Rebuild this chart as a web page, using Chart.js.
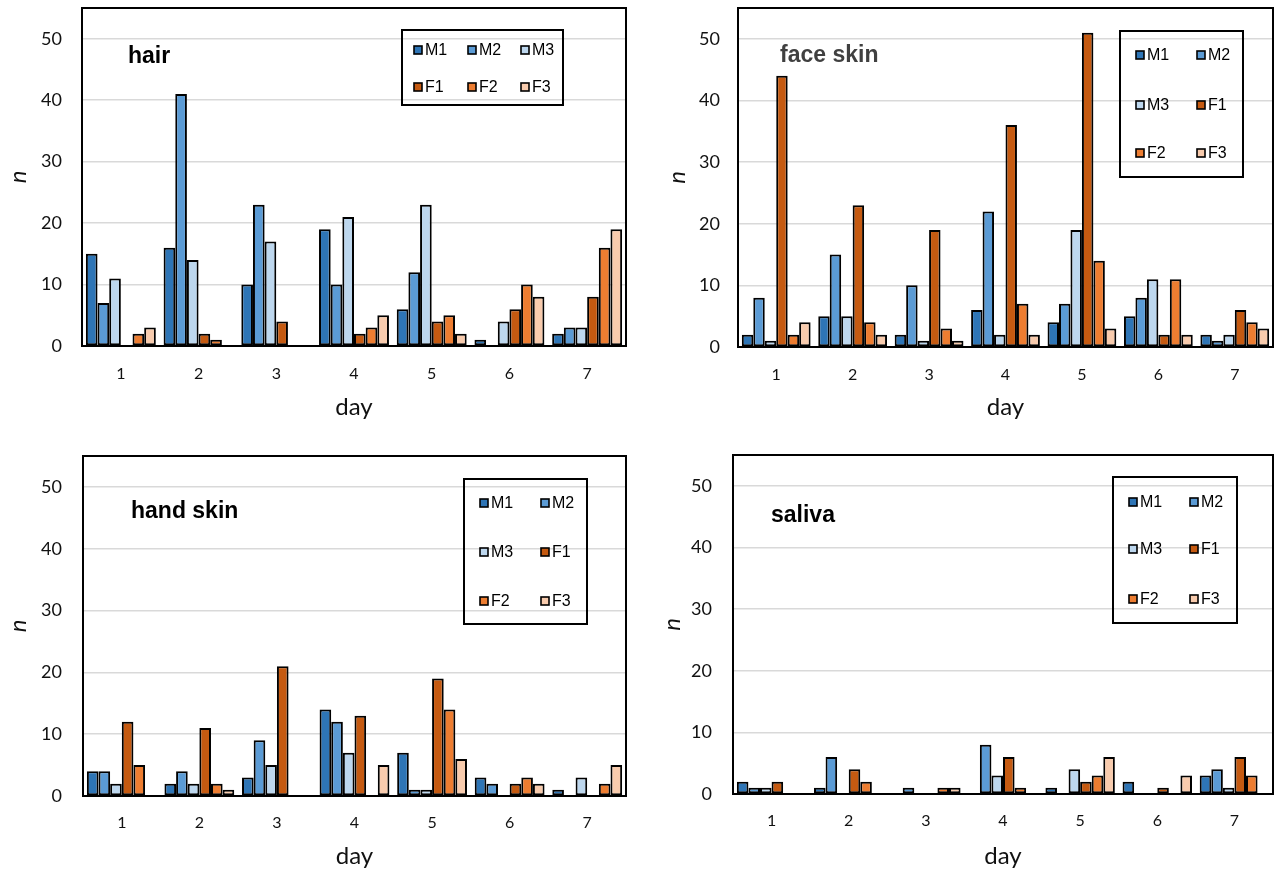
<!DOCTYPE html>
<html>
<head>
<meta charset="utf-8">
<script src="https://cdn.jsdelivr.net/npm/chart.js@4.4.1/dist/chart.umd.min.js"></script>
<style>
  html, body { margin: 0; padding: 0; background: #fff; }
  #wrap { position: relative; width: 1282px; height: 875px; overflow: hidden; }
  canvas { position: absolute; }
</style>
</head>
<body>
<div id="wrap">
  <canvas id="c-hair" width="641" height="437" style="left:0;top:0"></canvas>
  <canvas id="c-face" width="641" height="437" style="left:641px;top:0"></canvas>
  <canvas id="c-hand" width="641" height="438" style="left:0;top:437px"></canvas>
  <canvas id="c-saliva" width="641" height="438" style="left:641px;top:437px"></canvas>
</div>
<script>
// --- DATA ---
const days = ['1', '2', '3', '4', '5', '6', '7'];
const seriesNames = ['M1', 'M2', 'M3', 'F1', 'F2', 'F3'];
const yTicks = [0, 10, 20, 30, 40, 50];

const hairM1 = [15, 16, 10, 19, 6, 1, 2];
const hairM2 = [7, 41, 23, 10, 12, 0, 3];
const hairM3 = [11, 14, 17, 21, 23, 4, 3];
const hairF1 = [0, 2, 4, 2, 4, 6, 8];
const hairF2 = [2, 1, 0, 3, 5, 10, 16];
const hairF3 = [3, 0, 0, 5, 2, 8, 19];

const faceM1 = [2, 5, 2, 6, 4, 5, 2];
const faceM2 = [8, 15, 10, 22, 7, 8, 1];
const faceM3 = [1, 5, 1, 2, 19, 11, 2];
const faceF1 = [44, 23, 19, 36, 51, 2, 6];
const faceF2 = [2, 4, 3, 7, 14, 11, 4];
const faceF3 = [4, 2, 1, 2, 3, 2, 3];

const handM1 = [4, 2, 3, 14, 7, 3, 1];
const handM2 = [4, 4, 9, 12, 1, 2, 0];
const handM3 = [2, 2, 5, 7, 1, 0, 3];
const handF1 = [12, 11, 21, 13, 19, 2, 0];
const handF2 = [5, 2, 0, 0, 14, 3, 2];
const handF3 = [0, 1, 0, 5, 6, 2, 5];

const salivaM1 = [2, 1, 0, 0, 1, 2, 3];
const salivaM2 = [1, 6, 1, 8, 0, 0, 4];
const salivaM3 = [1, 0, 0, 3, 4, 0, 1];
const salivaF1 = [2, 4, 0, 6, 2, 1, 6];
const salivaF2 = [0, 2, 1, 1, 3, 0, 3];
const salivaF3 = [0, 0, 1, 0, 6, 3, 0];

// --- STYLE ---
const fills = ['#2E75B6', '#5B9BD5', '#BDD7EE', '#C55A11', '#ED7D31', '#F8CBAD'];
const numFont = 'Lato, "Noto Sans", sans-serif';
const textFont = '"Liberation Sans", Arial, sans-serif';

// frame, panel name and boxed legend drawn over the plot
const panelDecor = {
  id: 'panelDecor',
  afterDatasetsDraw(chart, args, opts) {
    const { ctx, chartArea: a } = chart;
    ctx.save();
    ctx.strokeStyle = '#000';
    ctx.lineWidth = 2;
    ctx.strokeRect(a.left, a.top, a.right - a.left, a.bottom - a.top);

    ctx.font = 'bold 23px ' + textFont;
    ctx.fillStyle = opts.titleColor;
    ctx.textAlign = 'left';
    ctx.textBaseline = 'alphabetic';
    ctx.fillText(opts.title, opts.titleX, opts.titleY);

    const L = opts.legend;
    ctx.lineWidth = 2;
    ctx.strokeRect(L.x, L.y, L.w, L.h);
    chart.data.datasets.forEach((ds, i) => {
      const col = i % L.colX.length;
      const row = Math.floor(i / L.colX.length);
      const sx = L.x + L.colX[col];
      const sy = L.y + L.rowY[row];
      ctx.fillStyle = ds.backgroundColor;
      ctx.fillRect(sx, sy - 4, 8, 8);
      ctx.lineWidth = 1.6;
      ctx.strokeRect(sx, sy - 4, 8, 8);
      ctx.fillStyle = '#000';
      ctx.font = '16px ' + textFont;
      ctx.textBaseline = 'middle';
      ctx.fillText(ds.label, sx + 11, sy + 1);
    });
    ctx.restore();
  }
};

function makeChart(id, series, deco) {
  const canvas = document.getElementById(id);
  const W = canvas.width, H = canvas.height;
  const area = deco.area;
  return new Chart(canvas, {
    type: 'bar',
    data: {
      labels: days,
      datasets: series.map((vals, i) => ({
        label: seriesNames[i],
        data: vals,
        backgroundColor: fills[i],
        borderColor: '#000',
        borderWidth: 2,
        borderSkipped: false,
        categoryPercentage: 0.9,
        barPercentage: 1.0
      }))
    },
    options: {
      responsive: false,
      animation: false,
      devicePixelRatio: 1,
      layout: { padding: { left: 0, top: area.top, right: W - area.right, bottom: 0 } },
      plugins: {
        legend: { display: false },
        tooltip: { enabled: false },
        panelDecor: deco
      },
      scales: {
        x: {
          grid: { display: false },
          border: { display: false },
          ticks: { color: '#111', font: { family: numFont, size: 16 }, padding: deco.tickPad },
          title: {
            display: true, text: 'day', color: '#111',
            font: { family: numFont, size: 24 },
            padding: { top: 0, bottom: deco.dayPad }
          },
          afterFit: s => {
            s.height = H - area.bottom;
            s.paddingLeft = 0; s.paddingRight = 0;
          }
        },
        y: {
          min: 0,
          max: 55,
          grid: { color: '#D9D9D9', lineWidth: 1.5, drawTicks: false },
          border: { display: false },
          ticks: { color: '#111', font: { family: numFont, size: 18 }, padding: deco.yPad, stepSize: 10 },
          afterBuildTicks: s => { s.ticks = yTicks.map(v => ({ value: v })); },
          title: {
            display: true, text: 'n', color: '#111',
            font: { family: numFont, size: 24, style: 'italic' },
            padding: { top: deco.nPad, bottom: 0 }
          },
          afterFit: s => {
            s.width = area.left;
            s.paddingTop = 0; s.paddingBottom = 0;
          }
        }
      }
    },
    plugins: [panelDecor]
  });
}

makeChart('c-hair', [hairM1, hairM2, hairM3, hairF1, hairF2, hairF3], {
  area: { left: 82, top: 8, right: 626, bottom: 346 },
  title: 'hair', titleColor: '#000', titleX: 128, titleY: 63,
  legend: { x: 402, y: 30, w: 161, h: 75, colX: [12, 66, 119], rowY: [20, 57] },
  dayPad: 15, tickPad: 10, nPad: 4, yPad: 20
});

makeChart('c-face', [faceM1, faceM2, faceM3, faceF1, faceF2, faceF3], {
  area: { left: 97, top: 8, right: 632, bottom: 347 },
  title: 'face skin', titleColor: '#404040', titleX: 139, titleY: 62,
  legend: { x: 479, y: 31, w: 123, h: 146, colX: [16, 77], rowY: [24, 74, 122] },
  dayPad: 15, tickPad: 10, nPad: 22, yPad: 18
});

makeChart('c-hand', [handM1, handM2, handM3, handF1, handF2, handF3], {
  area: { left: 83, top: 19, right: 626, bottom: 359 },
  title: 'hand skin', titleColor: '#000', titleX: 131, titleY: 81,
  legend: { x: 464, y: 42, w: 123, h: 145, colX: [16, 77], rowY: [24, 73, 122] },
  dayPad: 4, tickPad: 9, nPad: 4, yPad: 21
});

makeChart('c-saliva', [salivaM1, salivaM2, salivaM3, salivaF1, salivaF2, salivaF3], {
  area: { left: 92, top: 18, right: 632, bottom: 357 },
  title: 'saliva', titleColor: '#000', titleX: 130, titleY: 85,
  legend: { x: 472, y: 40, w: 124, h: 146, colX: [16, 77], rowY: [25, 72, 122] },
  dayPad: 4, tickPad: 9, nPad: 17, yPad: 21
});
</script>
</body>
</html>
